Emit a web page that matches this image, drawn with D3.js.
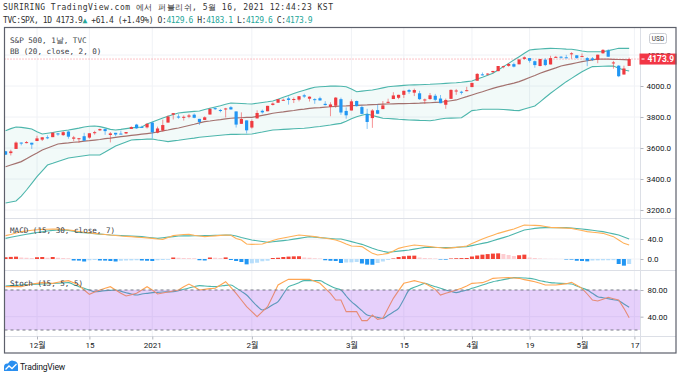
<!DOCTYPE html>
<html>
<head>
<meta charset="utf-8">
<script src="https://cdn.jsdelivr.net/npm/d3@7"></script>
<style>
  body { margin: 0; background: #fff; }
  svg { display: block; }
  .mono { font-family: "DejaVu Sans Mono", monospace; }
  .axis text { font-family: Roboto, "Noto Sans CJK KR", sans-serif; font-size: 8px; fill: #131722; }
</style>
</head>
<body>
<svg id="chart" width="680" height="377"></svg>
<script>
// ---- data: S&P 500 daily, 2020-11-20 .. 2021-05-14 (120 bars) ----
const opens = [3579,3567,3594,3635,3633,3634,3645,3654,3669,3670,3694,3683,3706,3660,3657,3676,3667,3697,3714,3722,
  3684,3698,3693,3694,3723,3751,3736,3733,3764,3699,3713,3764,3815,3803,3801,3802,3815,3788,3781,3816,
  3857,3845,3851,3863,3836,3756,3778,3732,3791,3840,3837,3878,3892,3910,3920,3916,3912,3940,3918,3915,
  3921,3885,3865,3873,3915,3839,3842,3903,3864,3819,3793,3844,3851,3891,3916,3924,3943,3974,3957,3953,
  3913,3916,3937,3919,3879,3917,3969,3963,3968,3993,4034,4075,4075,4089,4096,4124,4130,4141,4140,4175,
  4180,4160,4129,4170,4139,4186,4189,4185,4207,4198,4191,4180,4178,4169,4211,4228,4151,4131,4074,4129.6]
const highs = [3581,3589,3642,3636,3645,3634,3679,3670,3682,3699,3697,3708,3712,3678,3665,3698,3695,3711,3725,3726,
  3703,3698,3712,3703,3740,3756,3744,3760,3769,3738,3783,3811,3826,3818,3810,3820,3823,3788,3804,3859,
  3861,3852,3859,3870,3836,3830,3778,3784,3843,3848,3872,3894,3916,3919,3932,3926,3935,3950,3933,3921,
  3931,3902,3895,3929,3925,3862,3914,3906,3874,3853,3851,3881,3903,3918,3960,3944,3970,3981,3983,3969,
  3919,3955,3949,3942,3919,3978,3981,3969,3995,4021,4084,4087,4083,4098,4129,4131,4148,4151,4174,4191,
  4180,4164,4175,4179,4195,4194,4193,4201,4218,4199,4210,4187,4187,4202,4238,4237,4162,4135,4131,4183.1]
const lows = [3556,3552,3594,3617,3630,3594,3645,3645,3657,3670,3679,3678,3660,3644,3634,3645,3660,3686,3710,3685,
  3636,3676,3690,3690,3723,3723,3730,3726,3663,3695,3706,3764,3784,3789,3777,3792,3792,3749,3780,3816,
  3845,3830,3797,3847,3732,3756,3694,3725,3791,3822,3837,3874,3892,3907,3880,3890,3901,3923,3900,3885,
  3905,3874,3805,3859,3814,3789,3842,3867,3818,3723,3730,3819,3851,3888,3916,3915,3923,3950,3935,3910,
  3885,3911,3902,3889,3853,3917,3943,3945,3966,3993,4034,4068,4068,4082,4095,4114,4124,4120,4140,4170,
  4151,4118,4127,4128,4139,4182,4176,4181,4176,4175,4188,4128,4161,4147,4208,4188,4112,4057,4074,4129.6]
const closes = [3557,3578,3635,3629,3638,3622,3662,3669,3666,3699,3692,3702,3673,3668,3663,3647,3695,3702,3722,3709,
  3694,3687,3690,3703,3735,3727,3732,3756,3701,3726,3748,3803,3825,3799,3801.2,3810,3795,3768,3798,3852,
  3853,3841,3855,3849,3751,3787,3714,3774,3826,3830,3872,3887,3915,3911,3910,3916,3934,3932,3931,3914,
  3907,3877,3881,3925,3829,3811,3901,3870,3820,3768,3842,3821,3875,3898,3939,3943,3969,3963,3974,3915,
  3913,3940,3911,3889,3910,3975,3971,3959,3973,4020,4078,4074,4080,4097,4129,4128,4142,4125,4171,4185,
  4163,4135,4174,4135,4180,4188,4187,4184,4211,4181,4193,4165,4168,4202,4233,4189,4152,4063,4113,4173.9]

// Bollinger bands (20, close, 2)
const bbUpper = [3712,3725,3735,3733,3728,3723,3705,3690,3695,3700,3706,3711,3716,3722,3728,3735,3740,3742,3738,3730,
  3720,3716,3720,3725,3730,3733,3735,3755,3768,3781,3793,3805,3816,3826,3830,3833,3836,3839,3848,3857,
  3865,3873,3882,3890,3889,3887,3885,3884,3889,3894,3898,3903,3915,3927,3939,3951,3963,3973,3983,3992,
  3995,3997,3999,4000,3998,3995,3980,3963,3967,3971,3974,3981,3988,3995,3998,4001,4004,4006,4007,4008,
  4010,4011,4013,4015,4017,4019,4021,4024,4028,4032,4045,4057,4070,4082,4103,4125,4146,4168,4189,4211,
  4232,4236,4239,4241,4243,4242,4240,4238,4237,4232,4226,4221,4221,4221,4221,4228,4236,4243,4243,4243]
const bbBasis = [3479,3490,3501,3512,3531,3550,3568,3587,3600,3613,3626,3630,3633,3637,3640,3644,3647,3651,3655,3660,
  3664,3669,3673,3677,3681,3685,3689,3693,3697,3703,3710,3716,3723,3729,3737,3745,3753,3762,3770,3774,
  3779,3783,3788,3792,3794,3795,3797,3798,3804,3811,3817,3824,3829,3833,3838,3842,3847,3851,3856,3859,
  3861,3864,3866,3869,3871,3872,3874,3875,3877,3878,3880,3881,3883,3884,3885,3886,3886,3887,3888,3889,
  3891,3892,3894,3895,3900,3905,3910,3921,3931,3942,3953,3963,3974,3985,3994,4002,4011,4019,4028,4041,
  4055,4068,4082,4094,4106,4117,4129,4136,4143,4150,4157,4163,4169,4174,4174,4173,4172,4171,4170,4168]
const bbLower = [3245,3252,3258,3290,3329,3372,3415,3453,3490,3501,3513,3524,3535,3540,3545,3550,3555,3555,3555,3574,
  3594,3613,3626,3639,3652,3654,3655,3657,3658,3652,3647,3641,3646,3650,3655,3660,3664,3669,3673,3676,
  3679,3682,3685,3688,3688,3689,3689,3690,3697,3703,3710,3716,3718,3720,3722,3724,3726,3727,3731,3735,
  3739,3744,3748,3754,3759,3773,3788,3802,3811,3819,3810,3801,3792,3790,3788,3785,3783,3781,3780,3778,
  3777,3776,3781,3787,3792,3793,3794,3795,3818,3841,3845,3850,3850,3850,3850,3848,3846,3843,3841,3851,
  3861,3871,3898,3926,3953,3978,4003,4028,4049,4071,4092,4109,4125,4126,4127,4128,4129,4115,4103,4097]

// MACD (15, 30, close, 7)
const macdLine = [46.7,49,52,54.7,56,57.5,58.5,59.3,59.6,59.8,60,59,58,56.7,55,53.5,52.3,51.3,50,49,
  48,47,46,45.3,44.7,43.8,43,42.2,41.3,40,39.3,43,46.7,48,49,49.3,47.5,46,44.7,45.5,
  46.3,47.2,48,47.5,41,38,30,29.3,29.5,30,33.5,37,40,42,44,46,48,47,46,44.7,
  43,41.5,40,38,34.7,30,26,25.5,24.7,18,11.3,8,9.5,11.3,16,21.3,24,26,28,27,
  26,24.7,23.5,22.4,21.3,22.3,23.3,24.6,26,31,35.5,40,44,47.6,51.3,54.3,57.2,60,64,68,
  67.6,67.2,66.7,65,63.3,62.8,62.3,61.8,61.3,59,57,54.7,53.5,52.4,51.3,48,44.7,38,31.3,28]
const signalLine = [41.3,43.5,45.5,47.5,49.5,51.3,53,54.5,56,57.2,58,58,57.3,55.5,53.3,52.5,51.7,50.8,49.8,48.9,
  48,47.4,46.9,46.3,45.8,45.2,44.7,43.5,42.4,41.3,42.5,43.7,44.8,46,46.2,46.3,46.5,46.6,46.7,47,
  47.2,47.5,47.7,48,46,43,40.5,38,36.5,35,33.3,34.5,35.7,36.8,38,39.7,41.3,43,44.7,43.8,
  42.8,41.9,41,40,40,37.5,34.8,32,29.3,25.5,21.5,18,15.5,13.3,14.5,15.7,16.8,18,19.8,21.5,
  23.3,23.2,23,22.9,22.8,22.7,23.3,24,24.7,26.8,29,31.2,33.3,36.5,39.7,42.8,46,50,54,58,
  59.6,61.2,62.2,62.7,62.7,62.7,62.7,62.7,61.8,60.9,60,58.7,57.4,56,54.7,52.5,50.2,48,44,40]
const macdHist = [3.5,4.2,4.7,3,2.5,2,3.5,4,2.5,4,2.5,2,1.5,-3,-3.2,-5,-2.5,-2,-3,-3.2,
  -4,-5,-3.5,-3,-2.8,-2.5,-3,-3.5,-4,-2.5,-2,-1.5,3,2.5,2,1.8,1.5,-2.5,-3,3,
  2.5,2,3.2,-2,-4,-6,-10.7,-8.7,-7.5,-4.5,-3.5,2,2.5,4,4.8,5.3,5.5,3,2.5,1.5,
  1,-2.5,-3.5,-4,-8,-7,-6.7,-6,-9,-11.3,-11.5,-8,-5,-2,1,4,5.5,6.5,6.7,3,
  2,1.5,1,-1,-1.3,1,1.5,1.8,2,5,7,8.7,9.8,10.8,11.3,10,8,6,7.5,8.7,
  3,2,1,0.5,0.3,0.2,0.1,-1,-1.2,-3.5,-4,-4.7,-3,-2.8,-2.6,-2.5,-2.3,-10,-13.3,-10]

// Stoch (15, 5, 5)
const stochK = [85,85,85,85,87,89,90,91,90.5,90,91.5,93,94,91,87.5,80,73.5,77,80,82.5,
  85,80,75,71,73,75,80,85,80,74,75.5,77,78.5,80,85,89,85,80,81,82,
  82.5,87.5,92.5,84,75,65,55,47.5,40,47.5,55,71,87.5,92,96,96,96,96,96,93,
  90,82.5,75,65,65,47.5,47.5,47.5,34,34,42.5,36,37.5,52.5,67.5,79,90,92,94,92,
  90,85.5,81,72.5,75,77.5,80,82.5,86,90,90.5,91,94,97.5,98,98.3,98.5,98,97.5,95.5,
  94,92.5,90,87.5,87.5,87.5,88.5,89.5,91.5,87,82.5,74,65,63.5,66,69,67,65,52.5,38.5]
const stochD = [86,86.5,87,87.5,88,88.5,88.8,89,89.4,89.8,90.2,90.6,91,88,85,82.5,80,77.5,78,79,
  79.5,80,78,76,74,72.5,74,75,76,76.5,77,77.2,77.5,79,81,83,85,86.5,86,85.5,
  85,86,87,87.5,83,78,72.5,64,56,50,53,58,62.5,74,85,88,91,94,94,94,
  94,90,86,82.5,80,71,62.5,56,49,42.5,40.5,39,37.5,42,47,52.5,66,80,84,87,
  90,87.5,85,82.5,80,78,76,78,80,82.5,85,87.5,90,92.5,94,95.5,97,98.5,98.3,98,
  97.5,96,94,92.5,91,90.5,90,89.5,89,86,83,80,75,70,68.5,67,65.5,64,59,54]

// axis ticks
const timeTicks = [6, 16, 28, 47, 66, 76, 89, 100, 110, 120]
const timeLabels = ["12월", "15", "2021", "2월", "3월", "15", "4월", "19", "5월", "17"]
const priceTicks = [3200, 3400, 3600, 3800, 4000, 4200]
const macdTicks = [0, 40]
const stochTicks = [40, 80]
const stochBand = [80, 20]
const lastPrice = 4173.9

const upColor = "#ef3b40"
const downColor = "#2196f3"
const teal = "#4db6ac"
const orange = "#ffb057"

const L = 4.5, R = 640.5, T = 27.5, B = 353
const mainPane = [T, 218.5]
const macdPane = [219, 270.5]
const stochPane = [271, 336.5]

const svg = d3.select("#chart")
const idx = d3.range(closes.length)

const x = d3.scaleLinear().domain([6, 110]).range([37, 582])
const yP = d3.scaleLinear().domain([3200, 4000]).range([210, 86])
const yM = d3.scaleLinear().domain([0, 40]).range([259, 239])
const yS = d3.scaleLinear().domain([40, 80]).range([316.67, 290])

const defs = svg.append("defs")
function addClip(id, pane) {
    defs.append("clipPath").attr("id", id)
        .append("rect")
        .attr("x", L).attr("y", pane[0])
        .attr("width", R - L).attr("height", pane[1] - pane[0])
}
addClip("clipMain", mainPane)
addClip("clipMacd", macdPane)
addClip("clipStoch", stochPane)

// ---- header ----
svg.append("text").attr("class", "mono")
    .attr("x", 3).attr("y", 10)
    .attr("font-size", 8).attr("fill", "#333")
    .attr("textLength", 330).attr("lengthAdjust", "spacing")
    .text("SURIRING TradingView.com 에서 퍼블리쉬, 5월 16, 2021 12:44:23 KST")

const hdr = svg.append("text").attr("class", "mono")
    .attr("x", 3).attr("y", 23)
    .attr("font-size", 8).attr("fill", "#333")
    .attr("letter-spacing", -0.4)
const hdrParts = [
    ["TVC:SPX, 1D 4173.9", "#333"], ["▲", "#26a69a"], [" +61.4 (+1.49%) O:", "#333"],
    ["4129.6", "#26a69a"], [" H:", "#333"], ["4183.1", "#26a69a"], [" L:", "#333"],
    ["4129.6", "#26a69a"], [" C:", "#333"], ["4173.9", "#26a69a"]
]
hdr.selectAll("tspan").data(hdrParts).join("tspan")
    .attr("fill", d => d[1]).text(d => d[0])

// ---- grid ----
const grid = svg.append("g").attr("stroke", "#f0f2f6").attr("stroke-width", 1)
grid.selectAll("line.v").data(timeTicks).join("line")
    .attr("x1", d => x(d)).attr("x2", d => x(d))
    .attr("y1", T).attr("y2", stochPane[1])
grid.selectAll("line.hp").data(priceTicks).join("line")
    .attr("x1", L).attr("x2", R).attr("y1", d => yP(d)).attr("y2", d => yP(d))
grid.selectAll("line.hm").data(macdTicks).join("line")
    .attr("x1", L).attr("x2", R).attr("y1", d => yM(d)).attr("y2", d => yM(d))
grid.selectAll("line.hs").data(stochTicks).join("line")
    .attr("x1", L).attr("x2", R).attr("y1", d => yS(d)).attr("y2", d => yS(d))

// ---- main pane ----
const gMain = svg.append("g").attr("clip-path", "url(#clipMain)")

gMain.append("path")
    .datum(idx)
    .attr("fill", "rgba(38,166,154,0.06)")
    .attr("d", d3.area().x(i => x(i)).y0(i => yP(bbLower[i])).y1(i => yP(bbUpper[i])))

const bbLine = arr => d3.line().x(i => x(i)).y(i => yP(arr[i]))
gMain.append("path").datum(idx).attr("fill", "none").attr("stroke", teal).attr("stroke-width", 1.1).attr("d", bbLine(bbUpper))
gMain.append("path").datum(idx).attr("fill", "none").attr("stroke", teal).attr("stroke-width", 1.1).attr("d", bbLine(bbLower))
gMain.append("path").datum(idx).attr("fill", "none").attr("stroke", "#a3716e").attr("stroke-width", 1.2).attr("d", bbLine(bbBasis))

gMain.append("line")
    .attr("x1", L).attr("x2", R).attr("y1", yP(lastPrice)).attr("y2", yP(lastPrice))
    .attr("stroke", "#f7525f").attr("stroke-opacity", 0.7).attr("stroke-dasharray", "1,2")

const candle = gMain.selectAll("g.candle").data(idx).join("g")
    .attr("fill", i => closes[i] >= opens[i] ? upColor : downColor)
    .attr("stroke", i => closes[i] >= opens[i] ? upColor : downColor)
candle.append("line")
    .attr("x1", i => x(i)).attr("x2", i => x(i))
    .attr("y1", i => yP(highs[i])).attr("y2", i => yP(lows[i]))
    .attr("stroke-opacity", 0.55)
candle.append("rect")
    .attr("stroke", "none")
    .attr("x", i => x(i) - 1.6).attr("width", 3.2)
    .attr("y", i => yP(Math.max(opens[i], closes[i])))
    .attr("height", i => Math.max(1, Math.abs(yP(opens[i]) - yP(closes[i]))))

// ---- MACD pane ----
const gMacd = svg.append("g").attr("clip-path", "url(#clipMacd)")
gMacd.selectAll("rect").data(idx).join("rect")
    .attr("x", i => x(i) - 2).attr("width", 4)
    .attr("y", i => Math.min(yM(0), yM(macdHist[i])))
    .attr("height", i => Math.abs(yM(macdHist[i]) - yM(0)))
    .attr("fill", i => {
        const h = macdHist[i], p = i > 0 ? macdHist[i - 1] : 0
        if (h >= 0) return h >= p ? "#f44336" : "#fdcdd1"
        return h <= p ? "#2196f3" : "#b7defb"
    })
gMacd.append("path").datum(idx).attr("fill", "none").attr("stroke", teal).attr("stroke-width", 1.1)
    .attr("d", d3.line().x(i => x(i)).y(i => yM(signalLine[i])))
gMacd.append("path").datum(idx).attr("fill", "none").attr("stroke", orange).attr("stroke-width", 1.1)
    .attr("d", d3.line().x(i => x(i)).y(i => yM(macdLine[i])))

// ---- Stoch pane ----
const gSt = svg.append("g").attr("clip-path", "url(#clipStoch)")
gSt.append("path").datum(idx).attr("fill", "none").attr("stroke", teal).attr("stroke-width", 1.1)
    .attr("d", d3.line().curve(d3.curveMonotoneX).x(i => x(i)).y(i => yS(stochD[i])))
gSt.append("path").datum(idx).attr("fill", "none").attr("stroke", "#ffa552").attr("stroke-width", 1.1)
    .attr("d", d3.line().x(i => x(i)).y(i => yS(stochK[i])))
gSt.append("rect")
    .attr("x", L).attr("width", R - L)
    .attr("y", yS(stochBand[0])).attr("height", yS(stochBand[1]) - yS(stochBand[0]))
    .attr("fill", "rgba(150,60,240,0.24)")
gSt.selectAll("line.band").data(stochBand).join("line")
    .attr("x1", L).attr("x2", R).attr("y1", d => yS(d)).attr("y2", d => yS(d))
    .attr("stroke", "#787b86").attr("stroke-dasharray", "3,3")

// ---- pane legends ----
const legend = (txt, y) => svg.append("text").attr("class", "mono")
    .attr("x", 10).attr("y", y).attr("font-size", 7.6).attr("fill", "#3a3d45").text(txt)
legend("S&P 500, 1날, TVC", 43)
legend("BB (20, close, 2, 0)", 54)
legend("MACD (15, 30, close, 7)", 233)
legend("Stoch (15, 5, 5)", 286)

// ---- separators / frame ----
const sep = svg.append("g").attr("stroke", "#dcdfe6")
sep.selectAll("line").data([mainPane[1], macdPane[1], stochPane[1]]).join("line")
    .attr("x1", L).attr("x2", 676).attr("y1", d => d).attr("y2", d => d)
sep.append("line").attr("x1", R).attr("x2", R).attr("y1", T).attr("y2", B)

// ---- axes ----
function styleAxis(g) {
    g.select(".domain").remove()
    g.selectAll(".tick line").attr("stroke", "#b2b5be")
    g.attr("font-family", null).attr("font-size", null)
}
svg.append("g").attr("class", "axis").attr("transform", `translate(${R},0)`)
    .call(d3.axisRight(yP).tickValues(priceTicks).tickFormat(d3.format(".1f")).tickSize(3).tickPadding(3))
    .call(styleAxis)
svg.append("g").attr("class", "axis").attr("transform", `translate(${R},0)`)
    .call(d3.axisRight(yM).tickValues(macdTicks).tickFormat(d3.format(".1f")).tickSize(3).tickPadding(4))
    .call(styleAxis)
svg.append("g").attr("class", "axis").attr("transform", `translate(${R},0)`)
    .call(d3.axisRight(yS).tickValues(stochTicks).tickFormat(d3.format(".2f")).tickSize(3).tickPadding(4))
    .call(styleAxis)
svg.append("g").attr("class", "axis").attr("transform", `translate(0,${stochPane[1]})`)
    .call(d3.axisBottom(x).tickValues(timeTicks).tickFormat((d, k) => timeLabels[k]).tickSize(3).tickPadding(3))
    .call(styleAxis)

// last price label
const lp = svg.append("g").attr("transform", `translate(${R},${yP(lastPrice)})`)
lp.append("rect").attr("x", -1).attr("y", -5.5).attr("width", 37).attr("height", 11).attr("fill", "#f23645")
lp.append("line").attr("x1", 1).attr("x2", 4).attr("y1", 0).attr("y2", 0).attr("stroke", "#fff")
lp.append("text").attr("x", 7).attr("y", 3)
    .attr("font-family", "Roboto, sans-serif").attr("font-size", 8.4).attr("font-weight", "bold")
    .attr("fill", "#fff").text(d3.format(".1f")(lastPrice))

// USD button
svg.append("rect").attr("x", 649.5).attr("y", 33.5).attr("width", 17).attr("height", 10).attr("rx", 2)
    .attr("fill", "#fff").attr("stroke", "#c9ccd3")
svg.append("text").attr("x", 658).attr("y", 41).attr("text-anchor", "middle")
    .attr("font-family", "Roboto, sans-serif").attr("font-size", 6.5).attr("fill", "#333").text("USD")

// outer frame
svg.append("rect").attr("x", L).attr("y", T).attr("width", 676 - L).attr("height", B - T)
    .attr("fill", "none").attr("stroke", "#5d606b").attr("stroke-width", 1.2)

// ---- footer logo ----
const logo = svg.append("g").attr("transform", "translate(4,359)")
logo.append("path")
    .attr("d", "M0,12 L0,8 Q0,4 4,4.5 Q6,0.5 10,2 Q14,2.5 14,7 L14,12 Z")
    .attr("fill", "#2a8ff0")
logo.append("path")
    .attr("d", "M1.5,10.5 L5,7 L8,9.5 L12.5,5")
    .attr("fill", "none").attr("stroke", "#fff").attr("stroke-width", 1.3)
svg.append("text").attr("x", 20).attr("y", 369.5)
    .attr("font-family", "Roboto, sans-serif").attr("font-size", 8.6).attr("fill", "#131722")
    .attr("letter-spacing", -0.2).text("TradingView")
</script>
</body>
</html>
